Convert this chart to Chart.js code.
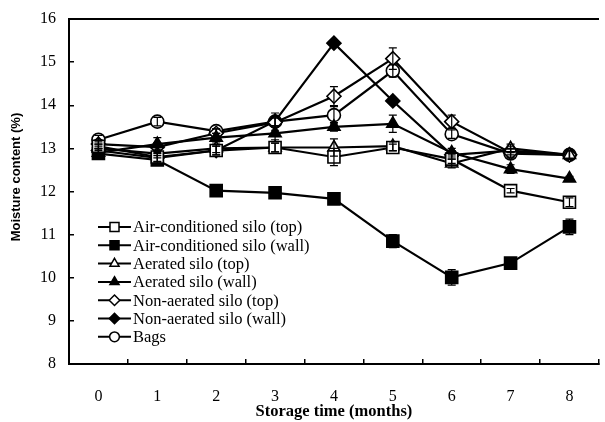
<!DOCTYPE html>
<html><head><meta charset="utf-8">
<script src="https://cdn.jsdelivr.net/npm/chart.js@4.4.0/dist/chart.umd.min.js"></script>
<style>html,body{margin:0;padding:0;overflow:hidden;background:#fff}#wrap{width:609px;height:422px}</style>
</head><body><div id="wrap"><canvas id="c" width="609" height="422"></canvas></div>
<script>
const months = ['0','1','2','3','4','5','6','7','8'];
const yTicks = [8,9,10,11,12,13,14,15,16];

const acTop   = [13.05, 12.80, 12.95, 13.02, 12.80, 13.02, 12.75, 12.02, 11.75];
const acWall  = [12.88, 12.73, 12.02, 11.97, 11.83, 10.85, 10.01, 10.34, 11.18];
const aerTop  = [13.00, 12.88, 13.00, 13.02, 13.02, 13.05, 12.65, 13.00, 12.85];
const aerWall = [12.90, 13.10, 13.25, 13.35, 13.50, 13.57, 12.90, 12.52, 12.30];
const nonTop  = [13.10, 13.03, 13.35, 13.60, 14.21, 15.08, 13.62, 12.90, 12.85];
const nonWall = [12.95, 12.78, 12.95, 13.63, 15.44, 14.10, 12.85, 12.95, 12.85];
const bags    = [13.20, 13.62, 13.40, 13.62, 13.77, 14.80, 13.33, 12.88, 12.85];

const errAcTop   = [0.10,0.10,0.10,0.10,0.20,0.08,0.10,0.05,0.10];
const errAcWall  = [0.10,0.10,0.05,0.05,0.12,0.15,0.18,0.05,0.18];
const errAerTop  = [0.10,0.10,0.10,0.10,0.20,0.10,0.10,0.10,0.10];
const errAerWall = [0.10,0.15,0.10,0.15,0.10,0.20,0.10,0.10,0.05];
const errNonTop  = [0.10,0.10,0.10,0.10,0.22,0.25,0.15,0.10,0.10];
const errNonWall = [0.10,0.10,0.10,0.10,0.08,0.05,0.10,0.10,0.10];
const errBags    = [0.10,0.10,0.05,0.20,0.20,0.15,0.10,0.10,0.10];

const seriesNames = ['Air-conditioned silo (top)','Air-conditioned silo (wall)','Aerated silo (top)','Aerated silo (wall)','Non-aerated silo (top)','Non-aerated silo (wall)','Bags'];

function ds(label, data, err, style, filled, r){
  return {label, data, err, pointStyle: style, pointRadius: r, pointHoverRadius: r,
    pointBackgroundColor: filled ? '#000' : '#fff', pointBorderColor:'#000', pointBorderWidth:1.6,
    borderColor:'#000', borderWidth:2.2, tension:0, fill:false};
}
const datasets = [
  ds(seriesNames[0], acTop, errAcTop, 'rect', false, 8.5),
  ds(seriesNames[1], acWall, errAcWall, 'rect', true, 8.5),
  ds(seriesNames[2], aerTop, errAerTop, 'triangle', false, 7),
  ds(seriesNames[3], aerWall, errAerWall, 'triangle', true, 7),
  ds(seriesNames[4], nonTop, errNonTop, 'rectRot', false, 7),
  ds(seriesNames[5], nonWall, errNonWall, 'rectRot', true, 7),
  ds(seriesNames[6], bags, errBags, 'circle', false, 6.5)
];

const errorBars = {
  id:'errorBars',
  afterDatasetsDraw(chart){
    const ctx = chart.ctx, ys = chart.scales.y;
    ctx.save();
    ctx.strokeStyle = '#000'; ctx.lineWidth = 1.2;
    chart.data.datasets.forEach((d,i)=>{
      const meta = chart.getDatasetMeta(i);
      meta.data.forEach((pt,j)=>{
        const e = d.err[j], v = d.data[j];
        const y1 = ys.getPixelForValue(v+e), y2 = ys.getPixelForValue(v-e);
        ctx.beginPath();
        ctx.moveTo(pt.x, y1); ctx.lineTo(pt.x, y2);
        ctx.moveTo(pt.x-4, y1); ctx.lineTo(pt.x+4, y1);
        ctx.moveTo(pt.x-4, y2); ctx.lineTo(pt.x+4, y2);
        ctx.stroke();
      });
    });
    ctx.restore();
  }
};

const insideLegend = {
  id:'insideLegend',
  afterDraw(chart){
    const ctx = chart.ctx;
    const x0 = 98, x1 = 131, y0 = 227, dy = 18.3;
    ctx.save();
    chart.data.datasets.forEach((d,i)=>{
      const y = y0 + i*dy;
      ctx.strokeStyle = '#000'; ctx.lineWidth = 2;
      ctx.beginPath(); ctx.moveTo(x0, y); ctx.lineTo(x1, y); ctx.stroke();
      ctx.fillStyle = d.pointBackgroundColor; ctx.strokeStyle = '#000'; ctx.lineWidth = 1.5;
      Chart.helpers.drawPoint(ctx, {pointStyle: d.pointStyle, radius: d.pointRadius*0.75, rotation:0, borderWidth:1.5}, (x0+x1)/2, y);
      ctx.fillStyle = '#000';
      ctx.font = '16.5px "Liberation Serif"';
      ctx.textAlign = 'left'; ctx.textBaseline = 'middle';
      ctx.fillText(d.label, x1+2, y+1);
    });
    ctx.restore();
  }
};

new Chart(document.getElementById('c'), {
  type:'line',
  data:{labels: months, datasets},
  options:{
    responsive:false, animation:false, devicePixelRatio:1,
    layout:{padding:{left:0,right:0,top:0,bottom:0}},
    plugins:{legend:{display:false}, tooltip:{enabled:false}},
    scales:{
      x:{type:'category', offset:true, position:'bottom',
        grid:{display:true, drawOnChartArea:false, offset:true, tickLength:-5, color:'#000', lineWidth:1.5},
        border:{display:true, color:'#000', width:2},
        ticks:{color:'#000', font:{family:'Liberation Serif', size:16}, padding:28, maxRotation:0, autoSkip:false},
        title:{display:true, text:'Storage time (months)', color:'#000', font:{family:'Liberation Serif', size:16.5, weight:'bold'}, padding:{top:0,bottom:0}},
        afterFit(s){ s.height = 58; s.paddingLeft = 0; s.paddingRight = 0; }
      },
      x2:{type:'category', offset:true, position:'top',
        grid:{display:true, drawOnChartArea:false, drawTicks:false},
        border:{display:true, color:'#000', width:2},
        ticks:{display:false},
        afterFit(s){ s.height = 19; s.paddingLeft = 0; s.paddingRight = 0; }
      },
      y:{type:'linear', min:8, max:16,
        afterBuildTicks(s){ s.ticks = yTicks.map(v=>({value:v})); },
        grid:{display:true, drawOnChartArea:false, tickLength:-5, color:'#000', lineWidth:1.5},
        border:{display:true, color:'#000', width:2},
        ticks:{color:'#000', font:{family:'Liberation Serif', size:16}, padding:18},
        title:{display:true, text:'        Moisture content (%)', color:'#000', font:{family:'Liberation Sans', size:13, weight:'bold'}, padding:{top:9,bottom:0}},
        afterFit(s){ s.width = 69; s.paddingTop = 0; s.paddingBottom = 0; }
      }
    }
  },
  plugins:[errorBars, insideLegend]
});
</script>
</body></html>
